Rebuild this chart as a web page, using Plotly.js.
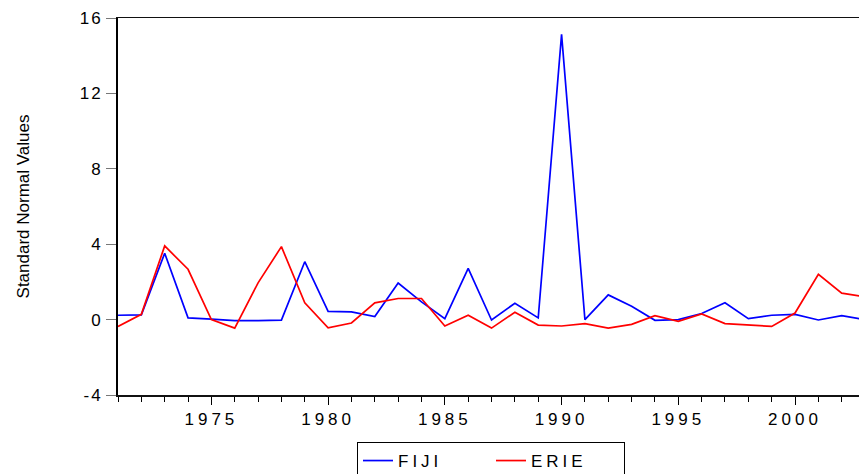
<!DOCTYPE html>
<html>
<head>
<meta charset="utf-8">
<script src="https://cdn.plot.ly/plotly-3.0.1.min.js"></script>
<style>
  html, body { margin: 0; padding: 0; background: #fff; }
  #chart { width: 859px; height: 474px; }
  .xtick text, .legendtext { letter-spacing: 4px; }
  .ytick text { letter-spacing: 2px; }
</style>
</head>
<body>
<div id="chart"></div>
<script>
const years = [1971, 1972, 1973, 1974, 1975, 1976, 1977, 1978, 1979, 1980,
               1981, 1982, 1983, 1984, 1985, 1986, 1987, 1988, 1989, 1990,
               1991, 1992, 1993, 1994, 1995, 1996, 1997, 1998, 1999, 2000,
               2001, 2002, 2003];
const fiji = [0.23, 0.25, 3.52, 0.09, 0.02, -0.05, -0.05, -0.03, 3.07, 0.44,
              0.41, 0.16, 1.94, 0.94, 0.05, 2.72, -0.02, 0.87, 0.09, 15.13,
              0.00, 1.31, 0.71, -0.04, 0.00, 0.32, 0.89, 0.05, 0.23, 0.28,
              -0.02, 0.21, 0.00];
const erie = [-0.36, 0.28, 3.91, 2.67, 0.00, -0.45, 1.95, 3.87, 0.89, -0.43,
              -0.18, 0.89, 1.12, 1.12, -0.34, 0.23, -0.45, 0.39, -0.29, -0.34,
              -0.21, -0.45, -0.25, 0.21, -0.09, 0.30, -0.21, -0.30, -0.36, 0.35,
              2.40, 1.40, 1.21];
const seriesNames = ['FIJI', 'ERIE'];
const yTickVals = [-4, 0, 4, 8, 12, 16];
const yTickText = ['-4', '0', '4', '8', '12', '16'];
const yTitle = 'Standard Normal Values';

const traces = [
  { x: years, y: fiji, name: seriesNames[0], type: 'scatter', mode: 'lines',
    line: { color: '#0000FF', width: 1.7 } },
  { x: years, y: erie, name: seriesNames[1], type: 'scatter', mode: 'lines',
    line: { color: '#FF0000', width: 1.7 } }
];

const layout = {
  width: 859, height: 474,
  margin: { l: 118, r: 0, t: 18, b: 79, autoexpand: false },
  paper_bgcolor: '#ffffff', plot_bgcolor: '#ffffff',
  font: { family: 'Arial, "Liberation Sans", sans-serif', size: 17, color: '#000' },
  showlegend: true,
  legend: {
    orientation: 'h', x: 491 / 859, xref: 'container', xanchor: 'center',
    y: (474 - 442) / 474, yref: 'container', yanchor: 'top',
    bordercolor: '#000', borderwidth: 1, bgcolor: '#fff',
    entrywidth: 88,
    font: { size: 17, color: '#000' }
  },
  xaxis: {
    range: [1971, 2002.74], showgrid: false, zeroline: false,
    showline: true, linecolor: '#111', linewidth: 1.5, mirror: true,
    tick0: 1970, dtick: 5, ticks: 'outside', ticklen: 8, tickcolor: '#000', tickwidth: 1,
    minor: { tick0: 1971, dtick: 1, ticks: 'outside', ticklen: 5, tickcolor: '#000', tickwidth: 1, showgrid: false },
    tickfont: { size: 17 }
  },
  yaxis: {
    range: [-4, 16], showgrid: false, zeroline: false,
    showline: true, linecolor: '#000', linewidth: 2, mirror: false,
    tickvals: yTickVals, ticktext: yTickText,
    ticks: 'outside', ticklen: 10, tickcolor: '#777', tickwidth: 1,
    tickfont: { size: 17 },
    title: { text: yTitle, font: { size: 17 }, standoff: 46 }
  }
};

Plotly.newPlot('chart', traces, layout, { displayModeBar: false, staticPlot: true });
</script>
</body>
</html>
